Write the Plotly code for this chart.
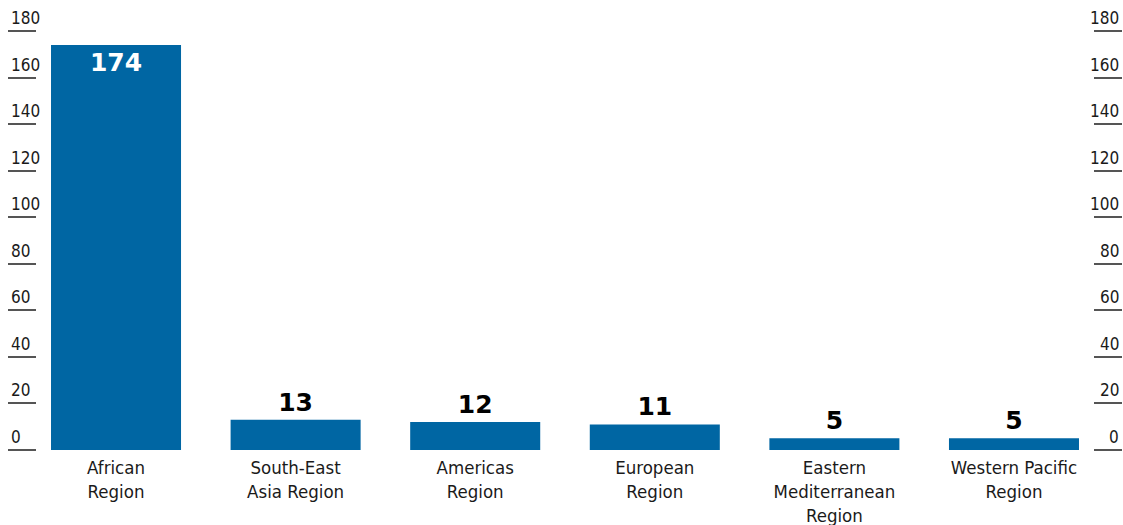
import plotly.graph_objects as go

categories = ["African<br>Region", "South-East<br>Asia Region", "Americas<br>Region",
              "European<br>Region", "Eastern<br>Mediterranean<br>Region", "Western Pacific<br>Region"]
values = [174, 13, 12, 11, 5, 5]
tick_vals = [0, 20, 40, 60, 80, 100, 120, 140, 160, 180]
tick_text = [str(v) for v in tick_vals]

BLUE = "#0066a3"
TXT = "#1a1a1a"
FONT = "DejaVu Sans Condensed, Liberation Sans Narrow, sans-serif"
BOLD = "DejaVu Sans, Arial, sans-serif"

positions = ["inside" if v > 100 else "outside" for v in values]

fig = go.Figure()
fig.add_trace(go.Bar(
    x=list(range(len(categories))), y=values,
    marker=dict(color=BLUE, line=dict(width=0)),
    width=0.724,
    text=[str(v) for v in values],
    textposition=positions,
    insidetextanchor="end",
    textfont=dict(family=BOLD, size=25, color=TXT, weight="bold"),
    insidetextfont=dict(family=BOLD, size=25, color="white", weight="bold"),
    outsidetextfont=dict(family=BOLD, size=25, color="black", weight="bold"),
    cliponaxis=False,
    showlegend=False,
    hoverinfo="skip",
))
fig.add_trace(go.Scatter(x=[None], y=[None], yaxis="y2", showlegend=False, hoverinfo="skip"))

W, H = 1123, 525
ml, mr, mt, mb = 37, 30, 31, 75
TL = 28

fig.update_layout(
    width=W, height=H,
    margin=dict(l=ml, r=mr, t=mt, b=mb, pad=0, autoexpand=False),
    paper_bgcolor="white", plot_bgcolor="white",
    xaxis=dict(
        tickmode="array", tickvals=list(range(len(categories))), ticktext=categories,
        range=[-0.44, 5.44], showgrid=False, zeroline=False, showline=False, ticks="",
        tickfont=dict(family=FONT, size=18.5, color=TXT),
        ticklabelstandoff=4, automargin=False,
    ),
    yaxis=dict(
        range=[0, 180], tickmode="array", tickvals=tick_vals, showticklabels=False,
        ticks="outside", ticklen=TL, tickcolor="#555555", tickwidth=1.5,
        showgrid=False, zeroline=False, showline=False, automargin=False,
    ),
    yaxis2=dict(
        range=[0, 180], overlaying="y", side="right", tickmode="array", tickvals=tick_vals,
        showticklabels=False, ticks="outside", ticklen=TL, tickcolor="#555555", tickwidth=1.5,
        showgrid=False, zeroline=False, showline=False, automargin=False,
    ),
)

pw = W - ml - mr
for v, t in zip(tick_vals, tick_text):
    fig.add_annotation(x=-TL / pw, y=v, xref="paper", yref="y", text=t, showarrow=False,
                       xanchor="left", yanchor="bottom", yshift=1, xshift=0,
                       font=dict(family=FONT, size=17, color=TXT))
    fig.add_annotation(x=1 + TL / pw, y=v, xref="paper", yref="y", text=t, showarrow=False,
                       xanchor="right", yanchor="bottom", yshift=1,
                       font=dict(family=FONT, size=17, color=TXT))

fig.write_html("out.html", config={"displayModeBar": False},
               post_script="document.body.style.margin='0';document.body.style.overflow='hidden';")
